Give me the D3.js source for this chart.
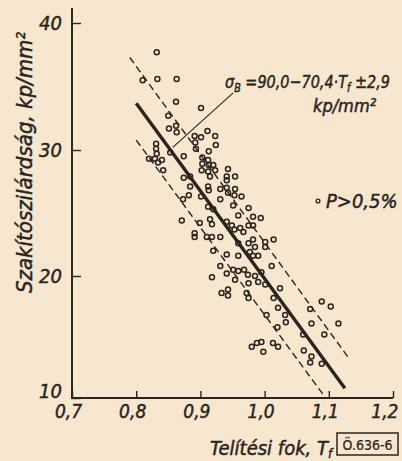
<!DOCTYPE html>
<html>
<head>
<meta charset="utf-8">
<script src="https://cdn.jsdelivr.net/npm/d3@7/dist/d3.min.js"></script>
<style>
  html, body { margin: 0; padding: 0; background: #f6e7ce; }
  svg { display: block; }
  text { font-family: "DejaVu Sans Condensed", "DejaVu Sans", sans-serif; font-stretch: condensed; font-style: italic; fill: #2a2420; stroke: #2a2420; stroke-width: 0.45px; }
</style>
</head>
<body>
<svg id="chart" width="402" height="461"></svg>
<script>
// Saturation degree T_f (x) and tensile strength sigma_B in kp/mm^2 (y)
const satDegree = [
  0.832, 0.810, 0.833, 0.863, 0.862, 0.901, 0.850, 0.851, 0.862, 0.863,
  0.891, 0.901, 0.892, 0.893, 0.831, 0.831, 0.832, 0.853, 0.874, 0.820,
  0.829, 0.840, 0.834, 0.842, 0.903, 0.903, 0.902, 0.874, 0.884, 0.884,
  0.882, 0.873, 0.901, 0.871, 0.899, 0.891, 0.891, 0.911, 0.923, 0.924,
  0.913, 0.912, 0.913, 0.920, 0.923, 0.912, 0.915, 0.943, 0.941, 0.941,
  0.954, 0.912, 0.913, 0.931, 0.941, 0.943, 0.953, 0.954, 0.964, 0.931,
  0.951, 0.975, 0.912, 0.920, 0.959, 0.982, 0.994, 0.915, 0.918, 0.941,
  0.949, 0.953, 0.962, 0.967, 0.975, 0.982, 0.910, 0.918, 0.931, 0.959,
  0.975, 0.982, 0.985, 1.001, 1.014, 1.001, 0.920, 0.941, 0.959, 0.977,
  0.982, 0.990, 0.931, 0.941, 0.951, 0.954, 0.959, 0.968, 0.974, 0.975,
  0.985, 1.011, 0.918, 0.995, 0.990, 1.001, 1.024, 0.933, 0.943, 0.943,
  0.972, 0.975, 1.014, 1.021, 1.032, 1.033, 1.020, 1.013, 1.021, 1.071,
  1.089, 1.103, 1.073, 1.115, 1.060, 1.093, 1.061, 1.073, 1.071, 1.089,
  0.980, 0.988, 0.995, 0.998, 1.003
];
const strength = [
  37.7, 35.5, 35.6, 35.6, 33.8, 33.3, 32.7, 31.7, 31.9, 31.4,
  31.1, 31.0, 30.6, 30.1, 30.5, 30.1, 29.7, 29.8, 29.5, 29.3,
  29.3, 29.2, 29.0, 28.4, 29.4, 28.9, 28.4, 27.8, 27.9, 27.1,
  26.4, 26.1, 26.3, 24.4, 24.2, 23.4, 23.1, 31.5, 31.1, 30.4,
  29.9, 29.2, 28.8, 28.8, 28.4, 28.3, 27.9, 28.5, 27.9, 27.6,
  27.9, 27.1, 26.8, 26.9, 27.0, 26.6, 26.4, 26.9, 26.3, 26.1,
  25.6, 25.4, 25.5, 25.3, 24.8, 24.7, 24.6, 24.5, 24.1, 24.3,
  24.0, 23.7, 23.8, 23.5, 24.0, 24.0, 23.1, 23.1, 23.1, 22.6,
  22.6, 22.9, 22.3, 22.7, 22.9, 22.3, 22.0, 21.7, 21.6, 21.9,
  21.6, 21.6, 20.8, 20.2, 20.5, 19.7, 20.4, 20.5, 20.1, 19.4,
  20.0, 20.8, 19.9, 20.3, 19.5, 19.3, 19.0, 18.6, 18.9, 18.4,
  18.6, 18.2, 18.2, 17.4, 16.8, 16.2, 15.8, 14.5, 14.2, 17.3,
  17.9, 17.5, 16.1, 16.1, 15.2, 15.2, 13.9, 13.4, 12.9, 12.8,
  14.2, 14.5, 14.6, 13.8, 16.8
];

// Regression sigma_B = 90.0 - 70.4 * T_f, scatter band +-2.9 kp/mm^2
const fitIntercept = 90.0;
const fitSlope = -70.4;
const fitBand = 2.9;
const fitRange = [0.80, 1.125];
const upperRange = [0.79, 1.13];
const lowerRange = [0.80, 1.095];

const xTicks = [0.7, 0.8, 0.9, 1.0, 1.1, 1.2];
const xTickLabels = ["0,7", "0,8", "0,9", "1,0", "1,1", "1,2"];
const yTicks = [10, 20, 30, 40];
const yTickLabels = ["10", "20", "30", "40"];

const ink = "#2a2420";
const svg = d3.select("#chart");

const x = d3.scaleLinear().domain([0.7, 1.2]).range([72, 393]);
const y = d3.scaleLinear().domain([10, 20, 30, 40]).range([398, 276, 150, 23]);

// Axes: ticks point inwards, labels outside
const xAxis = svg.append("g")
  .attr("transform", `translate(0,${y(10)})`)
  .call(d3.axisBottom(x).tickValues(xTicks)
    .tickFormat((d, i) => xTickLabels[i]).tickSize(-7).tickPadding(7));
xAxis.select(".domain").remove();
xAxis.selectAll(".tick line").attr("stroke", ink).attr("stroke-width", 1.4);
xAxis.selectAll(".tick text").attr("font-size", 19).attr("font-family", null)
  .style("fill", ink)
  .attr("text-anchor", d => d === 1.2 ? "end" : "middle")
  .attr("dx", d => d === 1.2 ? 5 : -4);

const yAxis = svg.append("g")
  .attr("transform", `translate(${x(0.7)},0)`)
  .call(d3.axisLeft(y).tickValues(yTicks)
    .tickFormat((d, i) => yTickLabels[i]).tickSize(-9).tickPadding(10));
yAxis.select(".domain").remove();
yAxis.selectAll(".tick line").attr("stroke", ink).attr("stroke-width", 1.4);
yAxis.selectAll(".tick text").attr("font-size", 20).attr("font-family", null)
  .style("fill", ink)
  .attr("dy", d => d === 10 ? "-0.05em" : "0.32em");

// Axis lines
svg.append("line")
  .attr("x1", x(0.7)).attr("x2", x(0.7))
  .attr("y1", 8).attr("y2", y(10) + 1)
  .attr("stroke", ink).attr("stroke-width", 2);
svg.append("line")
  .attr("x1", x(0.7) - 1).attr("x2", x(1.2))
  .attr("y1", y(10)).attr("y2", y(10))
  .attr("stroke", ink).attr("stroke-width", 2);

// Scatter band and regression line
const fit = (t, off) => fitIntercept + fitSlope * t + off;
const seg = (r, off) => r.map(t => [x(t), y(fit(t, off))]);
const line = d3.line();

svg.append("path").attr("d", line(seg(upperRange, fitBand)))
  .attr("fill", "none").attr("stroke", ink).attr("stroke-width", 1.4)
  .attr("stroke-dasharray", "7,4");
svg.append("path").attr("d", line(seg(lowerRange, -fitBand)))
  .attr("fill", "none").attr("stroke", ink).attr("stroke-width", 1.4)
  .attr("stroke-dasharray", "7,4");

// Measured points
svg.append("g").selectAll("circle")
  .data(satDegree.map((t, i) => [t, strength[i]]))
  .join("circle")
  .attr("cx", d => x(d[0])).attr("cy", d => y(d[1]))
  .attr("r", 2.5)
  .attr("fill", "none").attr("stroke", ink).attr("stroke-width", 1.5);

svg.append("path").attr("d", line(seg(fitRange, 0)))
  .attr("fill", "none").attr("stroke", ink).attr("stroke-width", 3.4);

// Equation with leader line
svg.append("line")
  .attr("x1", x(0.951)).attr("y1", y(34.5))
  .attr("x2", x(0.857)).attr("y2", y(30.2))
  .attr("stroke", ink).attr("stroke-width", 1.1);

// Condensed text block: drawn at natural size, then squeezed horizontally to a target width
function squeeze(g, width) {
  const w = g.node().getBBox().width;
  const f = Math.min(1, width / w);
  g.attr("transform", `${g.attr("transform")} scale(${f},1)`);
}

const eqG = svg.append("g").attr("transform", "translate(225,88)");
const eq = eqG.append("text").attr("font-size", 18);
eq.append("tspan").text("σ");
eq.append("tspan").attr("font-size", 12).attr("dy", 4).text("B");
eq.append("tspan").attr("dy", -4).text(" =90,0−70,4·T");
eq.append("tspan").attr("font-size", 12).attr("dy", 4).text("f");
eq.append("tspan").attr("dy", -4).text(" ±2,9");
squeeze(eqG, 165);

const unitG = svg.append("g").attr("transform", "translate(313,112)");
unitG.append("text").attr("font-size", 18).text("kp/mm²");
squeeze(unitG, 66);

// Legend
svg.append("circle").attr("cx", 318).attr("cy", 201).attr("r", 1.9)
  .attr("fill", "none").attr("stroke", ink).attr("stroke-width", 1.3);
svg.append("text").attr("x", 326).attr("y", 208).attr("font-size", 20)
  .text("P>0,5%");

// Axis titles
const yTitle = svg.append("g").attr("transform", "translate(32,293) rotate(-90)");
yTitle.append("text").attr("font-size", 22).text("Szakítószilárdság, kp/mm²");
squeeze(yTitle, 264);

const xt = svg.append("text").attr("x", 210).attr("y", 455).attr("font-size", 20);
xt.append("tspan").text("Telítési fok, T");
xt.append("tspan").attr("font-size", 13).attr("dy", 3).text("f");

// Figure reference
svg.append("rect").attr("x", 337).attr("y", 433).attr("width", 61).attr("height", 22)
  .attr("fill", "none").attr("stroke", ink).attr("stroke-width", 1.5);
svg.append("text").attr("x", 367.5).attr("y", 449.5).attr("font-size", 14)
  .attr("text-anchor", "middle").style("font-style", "normal")
  .style("stroke-width", "0.2px")
  .text("Ö.636-6");
</script>
</body>
</html>
